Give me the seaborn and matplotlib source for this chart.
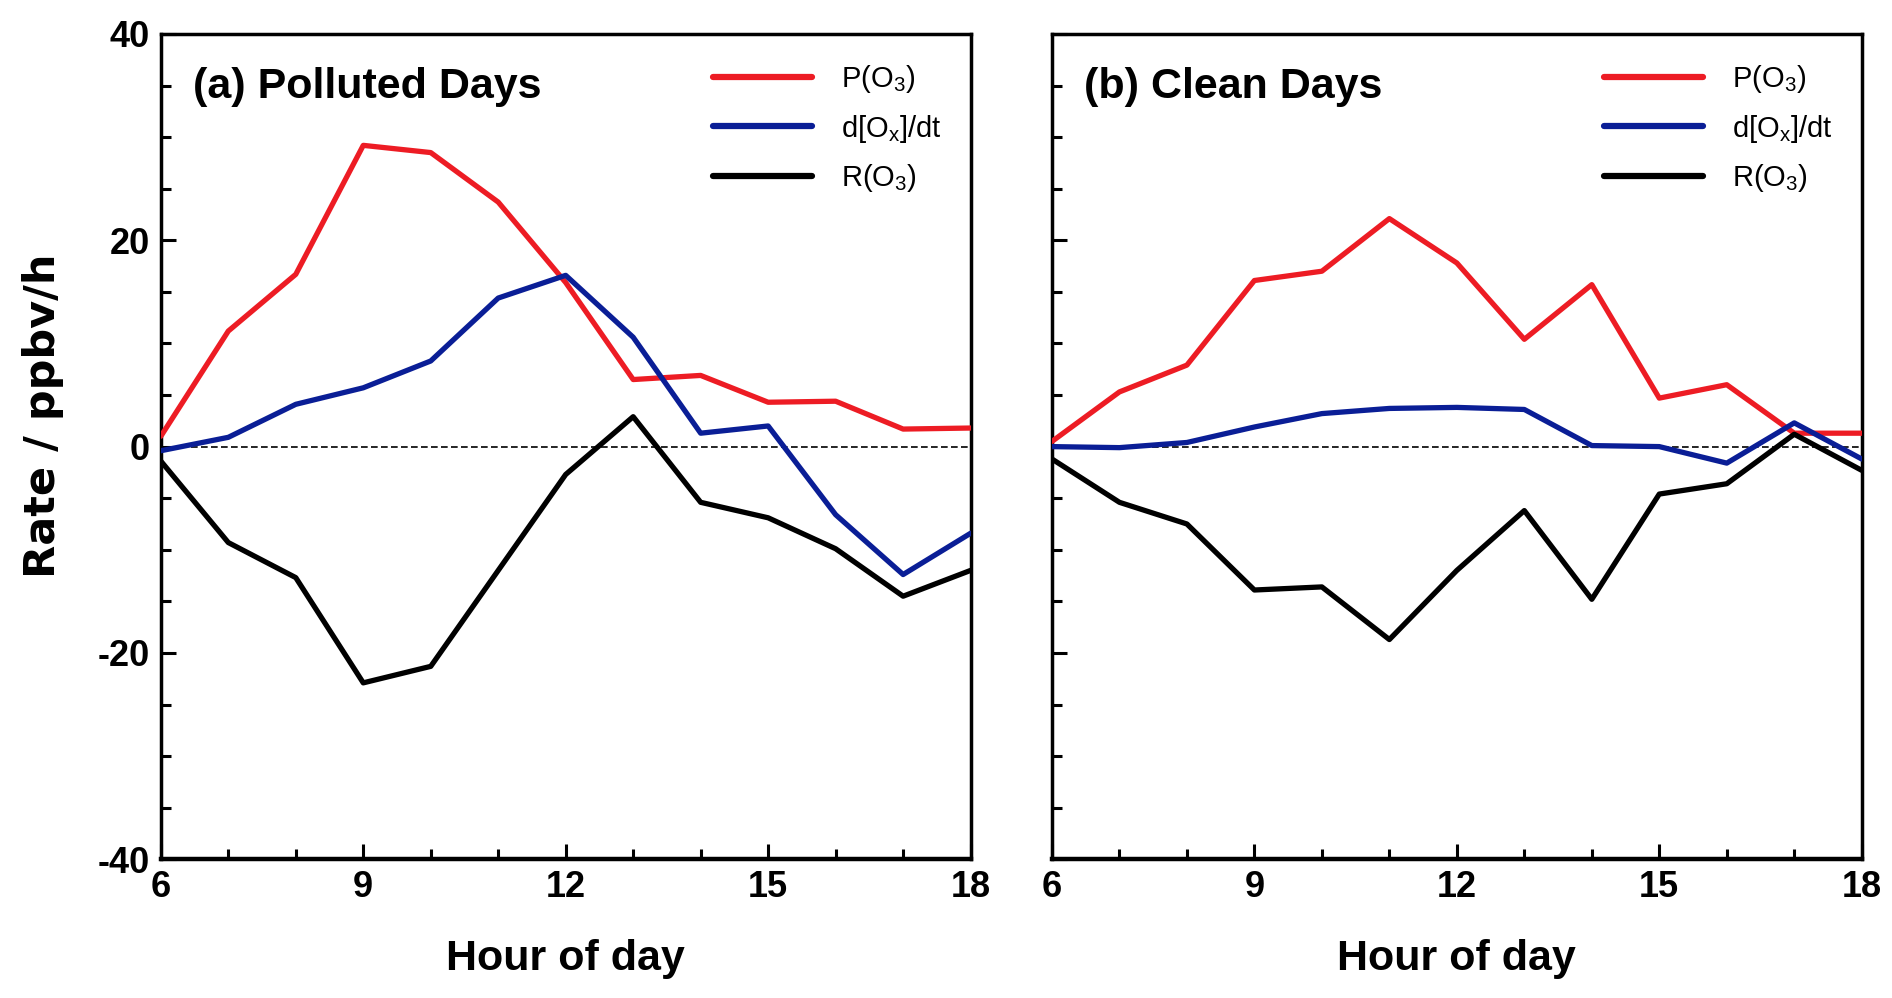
import numpy as np
import pandas as pd
import seaborn as sns
import matplotlib.pyplot as plt
from matplotlib.ticker import MultipleLocator

hours = list(range(6, 19))
series_names = ['P(O$_3$)', 'd[O$_x$]/dt', 'R(O$_3$)']
colors = ['#ED1C24', '#0A1E96', '#000000']

# (a) polluted days
pol_p = [1.0, 11.2, 16.7, 29.2, 28.5, 23.7, 15.9, 6.5, 6.9, 4.3, 4.4, 1.7, 1.8]
pol_d = [-0.4, 0.9, 4.1, 5.7, 8.3, 14.4, 16.6, 10.6, 1.3, 2.0, -6.6, -12.4, -8.4]
pol_r = [-1.4, -9.3, -12.7, -22.9, -21.3, -12.0, -2.7, 2.9, -5.4, -6.9, -9.9, -14.5, -12.0]

# (b) clean days
cln_p = [0.5, 5.3, 7.9, 16.1, 17.0, 22.1, 17.8, 10.4, 15.7, 4.7, 6.0, 1.3, 1.3]
cln_d = [0.0, -0.1, 0.4, 1.9, 3.2, 3.7, 3.8, 3.6, 0.1, 0.0, -1.6, 2.3, -1.2]
cln_r = [-1.2, -5.4, -7.5, -13.9, -13.6, -18.7, -12.0, -6.2, -14.8, -4.6, -3.6, 1.2, -2.3]

titles = ['(a) Polluted Days', '(b) Clean Days']


def long_df(p, d, r):
    rows = []
    for name, vals in zip(series_names, [p, d, r]):
        for h, v in zip(hours, vals):
            rows.append({'hour': h, 'rate': v, 'term': name})
    return pd.DataFrame(rows)


sns.set_style('ticks')
plt.rcParams['font.family'] = ['Liberation Sans', 'DejaVu Sans']
plt.rcParams['mathtext.default'] = 'regular'
plt.rcParams['axes.unicode_minus'] = False
plt.rcParams['text.color'] = 'black'
plt.rcParams['xtick.color'] = 'black'
plt.rcParams['ytick.color'] = 'black'
plt.rcParams['axes.labelcolor'] = 'black'
plt.rcParams['axes.edgecolor'] = 'black'

fig = plt.figure(figsize=(18.92, 9.98), dpi=100)
ax1 = fig.add_axes([0.085, 0.139, 0.428, 0.827])
ax2 = fig.add_axes([0.556, 0.139, 0.428, 0.827], sharey=ax1)

for ax, data, title in zip([ax1, ax2],
                           [long_df(pol_p, pol_d, pol_r), long_df(cln_p, cln_d, cln_r)],
                           titles):
    ax.axhline(0, color='black', lw=1.2, ls=(0, (4, 2)), zorder=1)
    sns.lineplot(data=data, x='hour', y='rate', hue='term', palette=colors,
                 hue_order=series_names, lw=3.8, ax=ax, zorder=3)
    ax.set_xlim(6, 18)
    ax.set_ylim(-40, 40)
    ax.xaxis.set_major_locator(MultipleLocator(3))
    ax.xaxis.set_minor_locator(MultipleLocator(1))
    ax.yaxis.set_major_locator(MultipleLocator(20))
    ax.yaxis.set_minor_locator(MultipleLocator(5))
    ax.tick_params(which='both', direction='in', top=False, right=False, width=2.2)
    ax.tick_params(which='major', length=11, labelsize=26, pad=8)
    ax.tick_params(which='minor', length=7)
    for lab in ax.get_xticklabels() + ax.get_yticklabels():
        lab.set_fontweight('bold')
    for s in ax.spines.values():
        s.set_linewidth(2.5)
        s.set_visible(True)
    ax.spines['bottom'].set_linewidth(3.2)
    ax.set_xlabel('Hour of day', fontsize=31, fontweight='bold', labelpad=24)
    ax.set_ylabel('')
    ax.text(0.04, 0.96, title, transform=ax.transAxes, fontsize=31,
            fontweight='bold', va='top', ha='left')
    leg = ax.legend(loc='upper right', frameon=False, fontsize=21,
                    handlelength=3.4, labelspacing=0.6, handletextpad=1.0,
                    borderaxespad=0.6)
    for h in leg.get_lines():
        h.set_linewidth(4.5)

ax1.set_ylabel('Rate / ppbv/h', fontsize=31, fontweight='bold', labelpad=24,
               family=['DejaVu Sans'])
ax1.yaxis.label.set_y(0.537)
plt.setp(ax2.get_yticklabels(), visible=False)

fig.savefig('out.png', dpi=100)
